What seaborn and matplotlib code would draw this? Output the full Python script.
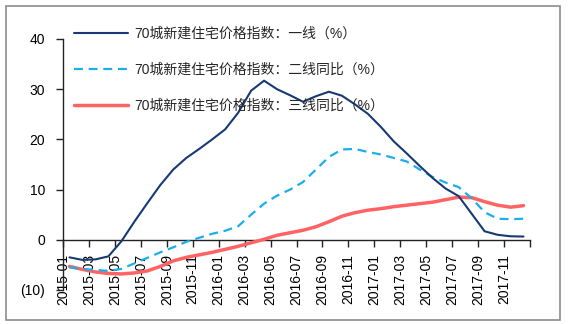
import numpy as np
import pandas as pd
import matplotlib
matplotlib.use("Agg")
import matplotlib.pyplot as plt
import seaborn as sns
from matplotlib.ticker import FuncFormatter
from matplotlib.patches import Rectangle

# ---------------- data ----------------
months = [
    "2015-01", "2015-02", "2015-03", "2015-04", "2015-05", "2015-06",
    "2015-07", "2015-08", "2015-09", "2015-10", "2015-11", "2015-12",
    "2016-01", "2016-02", "2016-03", "2016-04", "2016-05", "2016-06",
    "2016-07", "2016-08", "2016-09", "2016-10", "2016-11", "2016-12",
    "2017-01", "2017-02", "2017-03", "2017-04", "2017-05", "2017-06",
    "2017-07", "2017-08", "2017-09", "2017-10", "2017-11", "2017-12",
]
tier1 = [-3.5, -4.0, -3.9, -3.3, -0.3, 3.6, 7.3, 10.9, 14.0, 16.3, 18.1, 20.0,
         22.0, 25.3, 29.7, 31.7, 30.0, 28.8, 27.5, 28.6, 29.5, 28.7, 27.0, 25.1,
         22.5, 19.6, 17.2, 14.7, 12.3, 10.2, 8.7, 5.2, 1.7, 1.0, 0.7, 0.65]
tier2 = [-5.5, -5.8, -6.0, -6.2, -5.8, -4.7, -3.6, -2.5, -1.5, -0.4, 0.4, 1.2,
         1.8, 2.7, 5.0, 7.2, 8.8, 10.0, 11.5, 14.0, 16.5, 18.0, 18.1, 17.5,
         17.0, 16.3, 15.6, 14.0, 12.5, 11.4, 10.5, 8.3, 5.5, 4.2, 4.1, 4.2]
tier3 = [-5.3, -5.9, -6.4, -6.7, -6.8, -6.6, -6.2, -5.3, -4.2, -3.5, -3.0, -2.5,
         -1.9, -1.3, -0.6, 0.1, 0.9, 1.4, 1.9, 2.6, 3.6, 4.7, 5.4, 5.9,
         6.2, 6.6, 6.9, 7.2, 7.5, 8.0, 8.5, 8.4, 7.6, 6.9, 6.5, 6.8]
series_names = [
    "70城新建住宅价格指数：一线（%）",
    "70城新建住宅价格指数：二线同比（%）",
    "70城新建住宅价格指数：三线同比（%）",
]
tick_labels = months[::2]
y_ticks = [-10, 0, 10, 20, 30, 40]

# ---------------- style ----------------
sns.set_theme(style="white")
plt.rcParams["font.family"] = ["Liberation Sans", "Noto Sans CJK SC", "DejaVu Sans"]

fig = plt.figure(figsize=(5.7, 3.24), dpi=100)
ax = fig.add_axes([63 / 570, 34 / 324, 467 / 570, 251 / 324])

df = pd.DataFrame({
    "pos": np.arange(len(months)) + 0.5,
    "t1": tier1, "t2": tier2, "t3": tier3,
})

c1, c2, c3 = "#173A72", "#1AAEEB", "#FF6363"
sns.lineplot(data=df, x="pos", y="t3", ax=ax, color=c3, linewidth=2.5,
             label=series_names[2], zorder=3)
sns.lineplot(data=df, x="pos", y="t2", ax=ax, color=c2, linewidth=1.6,
             linestyle=(0, (4.0, 2.6)), label=series_names[1], zorder=4)
sns.lineplot(data=df, x="pos", y="t1", ax=ax, color=c1, linewidth=1.5,
             label=series_names[0], zorder=5)

ax.set_xlim(0, len(months))
ax.set_ylim(-10, 40)
ax.set_xticks(np.arange(0, len(months) + 1, 2))
ax.set_xticklabels(tick_labels + [""])
ax.set_yticks(y_ticks)
ax.yaxis.set_major_formatter(FuncFormatter(
    lambda v, p: f"({abs(int(v))})" if v < 0 else f"{int(v)}"))
ax.set_xlabel("")
ax.set_ylabel("")

for s in ["top", "right"]:
    ax.spines[s].set_visible(False)
ax.spines["bottom"].set_position(("data", 0))
for s in ["bottom", "left"]:
    ax.spines[s].set_color("#222222")
    ax.spines[s].set_linewidth(1.0)

ax.tick_params(axis="x", which="both", bottom=True, length=5, width=1,
               color="#222222", direction="out", labelsize=10, pad=5,
               labelrotation=90, labelcolor="black")
ax.tick_params(axis="y", which="both", left=True, length=5, width=1,
               color="#222222", direction="out", labelsize=10, pad=8,
               labelcolor="black")

handles, labels = ax.get_legend_handles_labels()
order = [labels.index(n) for n in series_names]
ax.legend([handles[i] for i in order], [labels[i] for i in order],
          loc="upper left", bbox_to_anchor=(74 / 570, 0.918),
          bbox_transform=fig.transFigure, frameon=False,
          fontsize=10, handlelength=3.9, handletextpad=0.45,
          labelspacing=1.6, borderpad=0, borderaxespad=0)

fig.patches.append(Rectangle((6 / 570, 4 / 324), 554 / 570, 314 / 324,
                             transform=fig.transFigure, fill=False,
                             edgecolor="#8C8C8C", linewidth=1.2))

fig.savefig("out.png", dpi=100)
